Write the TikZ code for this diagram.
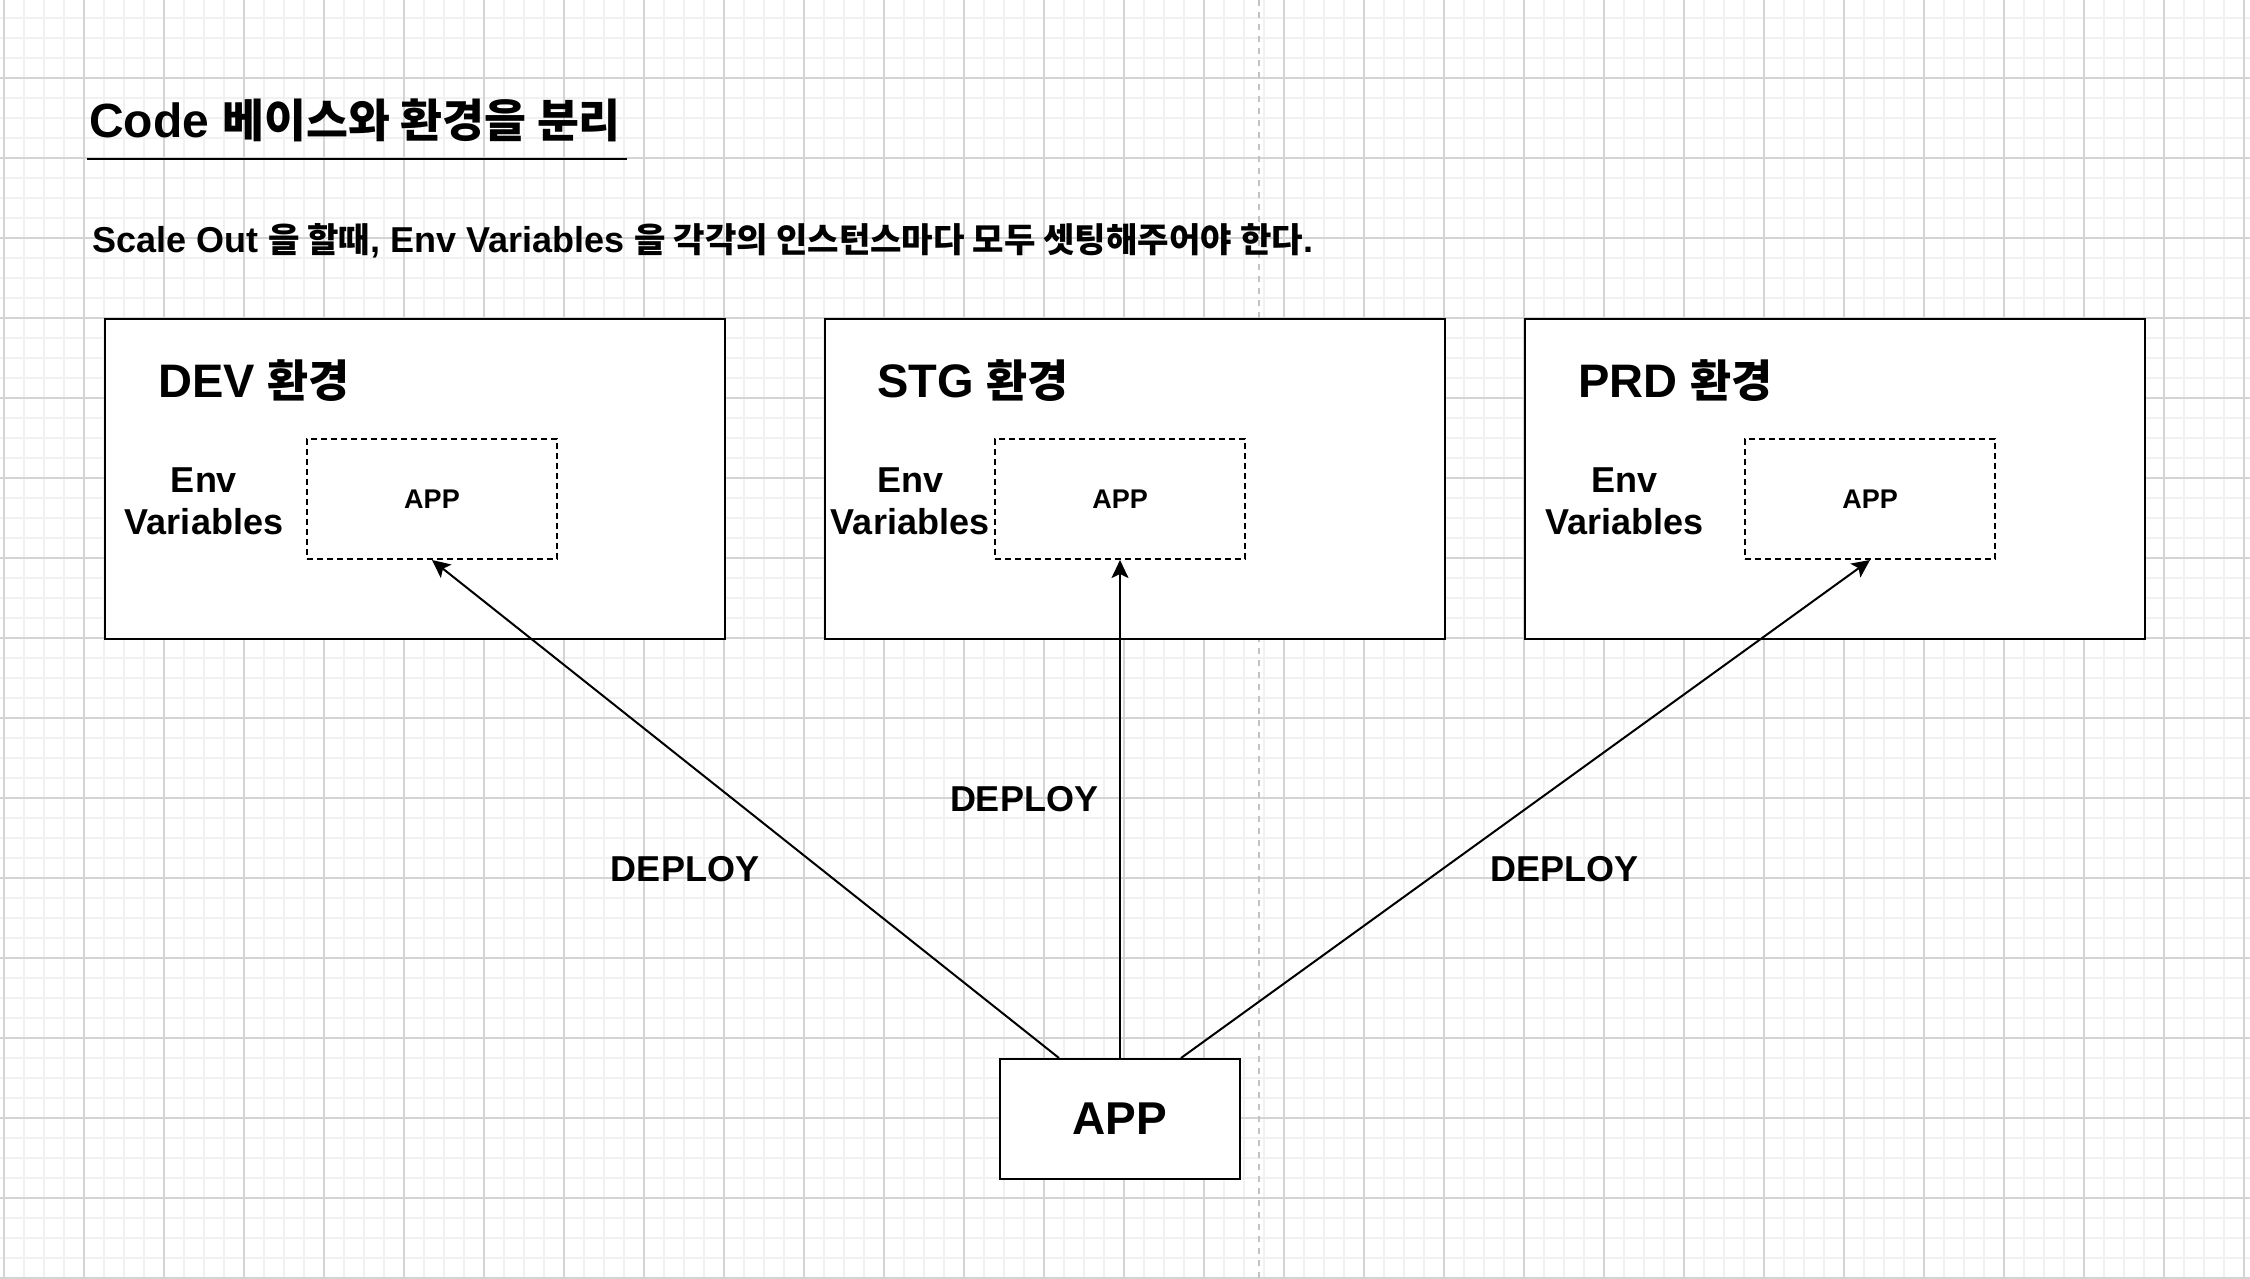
\documentclass[tikz,border=0pt]{standalone}
\usepackage{fontspec}
\setmainfont{Liberation Sans}
\newfontfamily\krfont{Noto Sans CJK KR}[Scale=0.95]
\newcommand\K[1]{{\krfont #1}}
\usetikzlibrary{arrows.meta}
\definecolor{gridminor}{HTML}{F1F1F1}
\definecolor{gridmajor}{HTML}{D4D4D4}
\definecolor{guide}{HTML}{C2C2C2}
\tikzset{
  minorline/.style={draw=gridminor, line width=1.6pt},
  majorline/.style={draw=gridmajor, line width=1.2pt},
  guideline/.style={draw=guide, line width=2pt, dash pattern=on 6pt off 6pt},
  envbox/.style={draw=black, fill=white, line width=2pt, minimum width=620pt, minimum height=320pt, inner sep=0pt},
  innerbox/.style={draw=black, fill=white, line width=2pt, dash pattern=on 6pt off 4pt, minimum width=250pt, minimum height=120pt, inner sep=0pt, font=\fontsize{27}{32}\selectfont\bfseries},
  appbox/.style={draw=black, fill=white, line width=2pt, minimum width=240pt, minimum height=120pt, inner sep=0pt, font=\fontsize{46}{55}\selectfont\bfseries},
  titletext/.style={anchor=base west, inner sep=0pt, font=\fontsize{48}{58}\selectfont\bfseries},
  subtext/.style={anchor=base west, inner sep=0pt, font=\fontsize{36}{43}\selectfont\bfseries},
  envtitle/.style={anchor=base west, inner sep=0pt, font=\fontsize{47}{56}\selectfont\bfseries},
  envlabel/.style={anchor=base, inner sep=0pt, align=center, font=\fontsize{36}{41.5}\selectfont\bfseries},
  deploylabel/.style={inner sep=0pt, font=\fontsize{36}{43}\selectfont\bfseries},
  arr/.style={draw=black, line width=2pt, -{Stealth[length=18pt, width=17pt, inset=4pt]}},
}
\begin{document}
\begin{tikzpicture}[x=1pt, y=-1pt]
\useasboundingbox (0,0) rectangle (2250,1278);
\fill[white] (0,0) rectangle (2250,1278);
% grid
\foreach \x in {4,24,...,2244} \draw[minorline] (\x,0) -- (\x,1278);
\foreach \y in {18,38,...,1278} \draw[minorline] (0,\y) -- (2250,\y);
\foreach \x in {4,84,...,2244} \draw[majorline] (\x,0) -- (\x,1278);
\foreach \y in {78,158,...,1278} \draw[majorline] (0,\y) -- (2250,\y);
\draw[guideline] (1259,0) -- (1259,1278);

% title
\node[titletext] (title) at (89,137) {Code \K{베이스와 환경을 분리}};
\coordinate (ulA) at (87,159);
\coordinate (ulB) at (627,159);
\draw[line width=2pt] (ulA) -- (ulB);
\node[subtext] (sub) at (92,252) {Scale Out \K{을 할때}, Env Variables \K{을 각각의 인스턴스마다 모두 셋팅해주어야 한다}.};

% environment boxes
\node[envbox] (dev) at (415,479) {};
\node[envbox] (stg) at (1135,479) {};
\node[envbox] (prd) at (1834.5,479) {};

\node[envtitle] (devt) at (158,397) {DEV \K{환경}};
\node[envtitle] (stgt) at (877,397) {STG \K{환경}};
\node[envtitle] (prdt) at (1578,397) {PRD \K{환경}};

\node[envlabel] (deve) at (204,534) {Env\\Variables};
\node[envlabel] (stge) at (910,534) {Env\\Variables};
\node[envlabel] (prde) at (1624.5,534) {Env\\Variables};

\node[innerbox] (devapp) at (432,499) {APP};
\node[innerbox] (stgapp) at (1120,499) {APP};
\node[innerbox] (prdapp) at (1870,499) {APP};

% deploy source
\node[appbox] (app) at (1120,1119) {APP};

\draw[arr] ([xshift=60pt]app.north west) -- (devapp.south);
\draw[arr] (app.north) -- (stgapp.south);
\draw[arr] ([xshift=-60pt]app.north east) -- (prdapp.south);

\node[deploylabel] (dep1) at (685,869) {DEPLOY};
\node[deploylabel] (dep2) at (1024,799) {DEPLOY};
\node[deploylabel] (dep3) at (1564,869) {DEPLOY};
\end{tikzpicture}
\end{document}
